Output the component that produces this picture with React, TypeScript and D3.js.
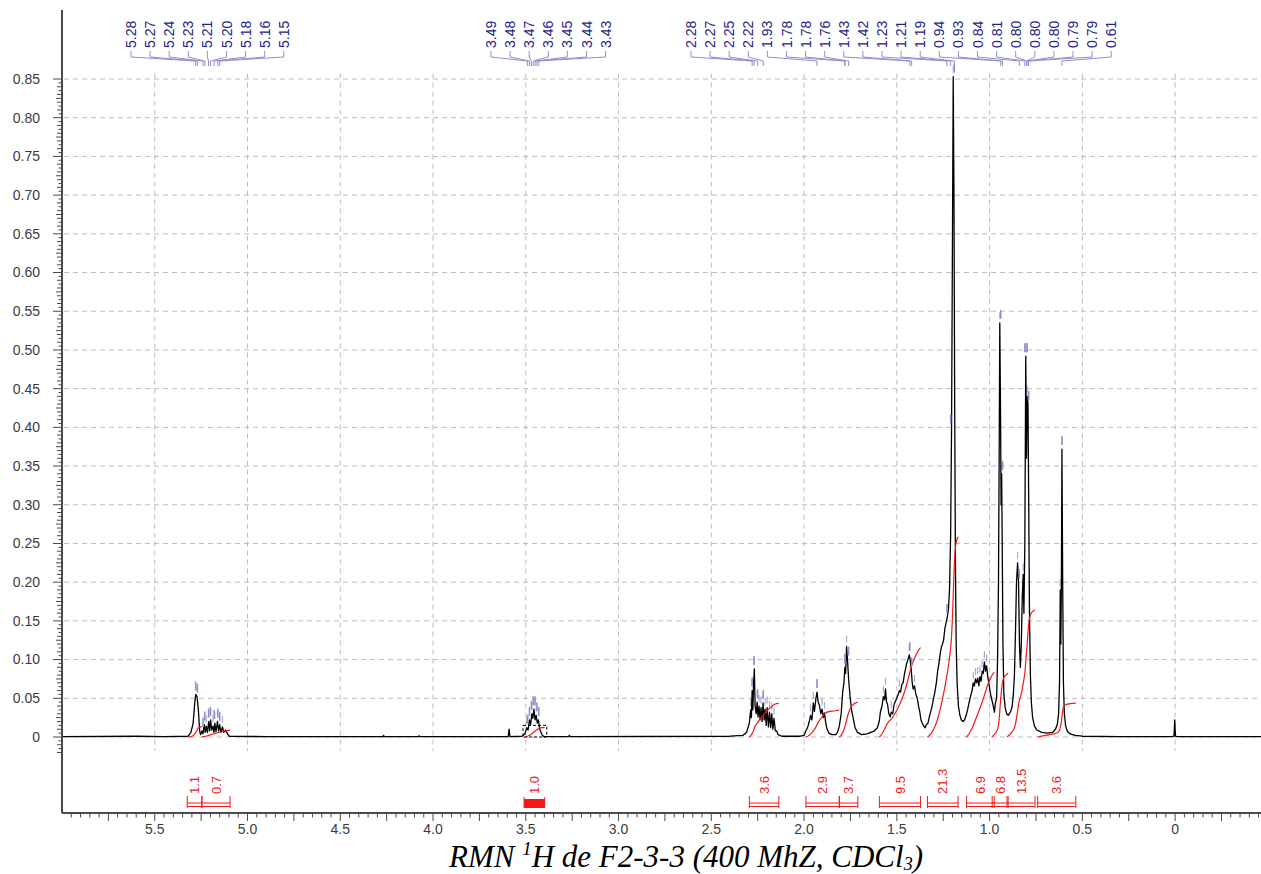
import React from 'react';
import * as d3 from 'd3';

// ---------- DATA ----------
// spectrum trace, [ppm, intensity], by region
const baseLeft: [number, number][] = [[6.0, 0.0005], [5.6, 0.001], [5.45, 0.0005], [5.32, 0.001]];
const olefinic: [number, number][] = [
  [5.305, 0.006], [5.293, 0.018], [5.284, 0.045], [5.279, 0.055], [5.272, 0.052], [5.265, 0.035], [5.258, 0.008], [5.253, 0.003],
  [5.245, 0.008], [5.24, 0.004], [5.233, 0.016], [5.228, 0.006], [5.222, 0.014], [5.216, 0.006], [5.209, 0.02], [5.204, 0.008],
  [5.199, 0.022], [5.193, 0.009], [5.186, 0.014], [5.181, 0.006], [5.176, 0.018], [5.17, 0.007], [5.162, 0.02], [5.156, 0.008],
  [5.15, 0.016], [5.144, 0.006], [5.135, 0.013], [5.128, 0.006], [5.118, 0.009], [5.108, 0.004], [5.098, 0.001],
];
const carbinol: [number, number][] = [
  [4.9, 0.0005], [4.27, 0.0005], [4.267, 0.002], [4.263, 0.0005], [4.08, 0.0005], [4.076, 0.0015], [4.07, 0.0005],
  [3.595, 0.0005], [3.59, 0.01], [3.585, 0.0005],
  [3.52, 0.001], [3.505, 0.004], [3.495, 0.012], [3.488, 0.009], [3.48, 0.022], [3.474, 0.016], [3.467, 0.03], [3.462, 0.024],
  [3.456, 0.036], [3.45, 0.022], [3.444, 0.028], [3.438, 0.018], [3.432, 0.022], [3.425, 0.01], [3.418, 0.006], [3.41, 0.002],
  [3.4, 0.0005], [3.27, 0.0005], [3.265, 0.002], [3.26, 0.0005],
];
const allylic: [number, number][] = [
  [2.4, 0.001], [2.33, 0.002], [2.31, 0.006], [2.295, 0.018],
  [2.288, 0.035], [2.284, 0.025], [2.28, 0.06], [2.276, 0.035], [2.272, 0.07], [2.268, 0.088], [2.264, 0.04], [2.258, 0.03],
  [2.253, 0.045], [2.248, 0.026], [2.243, 0.04], [2.237, 0.022], [2.232, 0.038], [2.226, 0.02], [2.221, 0.044], [2.215, 0.022],
  [2.21, 0.036], [2.204, 0.015], [2.199, 0.038], [2.192, 0.013], [2.186, 0.032], [2.18, 0.012], [2.174, 0.03], [2.168, 0.01],
  [2.162, 0.024], [2.155, 0.008], [2.148, 0.008], [2.14, 0.003], [2.12, 0.001],
  [2.02, 0.001], [2.0, 0.002], [1.99, 0.008], [1.98, 0.013], [1.972, 0.02], [1.965, 0.028], [1.958, 0.022], [1.95, 0.044],
  [1.944, 0.033], [1.936, 0.05], [1.93, 0.058], [1.924, 0.045], [1.917, 0.041], [1.91, 0.03], [1.903, 0.036], [1.896, 0.025],
  [1.89, 0.031], [1.883, 0.018], [1.876, 0.01], [1.866, 0.005], [1.85, 0.003], [1.83, 0.003], [1.82, 0.006], [1.81, 0.014],
  [1.8, 0.03], [1.792, 0.058], [1.785, 0.07], [1.78, 0.09], [1.776, 0.082], [1.771, 0.117], [1.766, 0.1], [1.76, 0.075],
  [1.752, 0.052], [1.744, 0.035], [1.735, 0.024], [1.725, 0.012], [1.712, 0.006], [1.69, 0.003],
];
const aliphatic: [number, number][] = [
  [1.66, 0.004], [1.64, 0.006], [1.62, 0.008], [1.605, 0.012], [1.595, 0.02], [1.588, 0.033], [1.58, 0.04], [1.573, 0.052],
  [1.566, 0.048], [1.561, 0.062], [1.556, 0.046], [1.55, 0.042], [1.543, 0.03], [1.536, 0.026], [1.53, 0.032], [1.522, 0.03],
  [1.515, 0.042], [1.508, 0.046], [1.5, 0.05], [1.493, 0.055], [1.486, 0.06], [1.48, 0.058], [1.473, 0.068], [1.466, 0.07],
  [1.46, 0.08], [1.454, 0.087], [1.447, 0.095], [1.44, 0.1], [1.433, 0.106], [1.428, 0.1], [1.422, 0.086], [1.417, 0.07],
  [1.412, 0.062], [1.405, 0.066], [1.398, 0.056], [1.39, 0.05], [1.383, 0.04], [1.376, 0.032], [1.37, 0.022], [1.363, 0.018],
  [1.355, 0.014], [1.348, 0.012], [1.34, 0.016], [1.332, 0.018], [1.325, 0.026], [1.317, 0.033], [1.31, 0.04], [1.302, 0.05],
  [1.295, 0.058], [1.287, 0.07], [1.28, 0.085], [1.273, 0.095], [1.266, 0.108], [1.26, 0.116], [1.254, 0.12], [1.248, 0.125],
  [1.241, 0.14], [1.234, 0.148], [1.228, 0.155], [1.222, 0.165], [1.216, 0.19], [1.21, 0.26], [1.205, 0.4], [1.2, 0.65],
  [1.196, 0.853], [1.192, 0.7], [1.188, 0.42], [1.184, 0.22], [1.18, 0.12], [1.175, 0.07], [1.168, 0.04], [1.16, 0.028],
  [1.152, 0.022], [1.144, 0.02], [1.135, 0.022], [1.126, 0.028], [1.118, 0.036], [1.11, 0.045], [1.1, 0.055], [1.094, 0.06],
  [1.088, 0.07], [1.082, 0.066], [1.076, 0.075], [1.07, 0.07], [1.064, 0.076], [1.058, 0.066], [1.052, 0.078], [1.046, 0.072],
  [1.04, 0.085], [1.034, 0.082], [1.028, 0.097], [1.022, 0.085], [1.016, 0.092], [1.01, 0.078], [1.004, 0.07], [0.998, 0.06],
  [0.992, 0.052], [0.986, 0.046], [0.98, 0.04], [0.974, 0.032], [0.968, 0.045], [0.962, 0.05], [0.957, 0.1], [0.952, 0.2],
  [0.948, 0.38], [0.945, 0.535], [0.941, 0.42], [0.938, 0.3], [0.935, 0.34], [0.932, 0.25], [0.928, 0.12], [0.923, 0.055],
  [0.916, 0.038], [0.908, 0.03], [0.9, 0.028], [0.893, 0.03], [0.885, 0.034], [0.878, 0.04], [0.872, 0.055], [0.866, 0.08],
  [0.86, 0.14], [0.855, 0.2], [0.849, 0.225], [0.844, 0.2], [0.839, 0.12], [0.834, 0.09], [0.829, 0.12], [0.824, 0.18],
  [0.819, 0.21], [0.815, 0.16], [0.81, 0.25], [0.805, 0.492], [0.801, 0.36], [0.797, 0.44], [0.793, 0.43], [0.789, 0.3],
  [0.785, 0.16], [0.78, 0.08], [0.775, 0.045], [0.768, 0.025], [0.758, 0.014], [0.745, 0.009], [0.72, 0.006], [0.69, 0.005],
  [0.66, 0.006], [0.645, 0.01], [0.635, 0.016], [0.628, 0.03], [0.623, 0.07], [0.619, 0.19], [0.616, 0.12], [0.613, 0.2],
  [0.61, 0.372], [0.606, 0.2], [0.602, 0.07], [0.597, 0.03], [0.59, 0.014], [0.58, 0.007], [0.565, 0.004], [0.54, 0.002],
  [0.5, 0.001],
];
const baseRight: [number, number][] = [
  [0.3, 0.0005], [0.02, 0.0005], [0.006, 0.001], [0.002, 0.022], [-0.002, 0.001], [-0.01, 0.0005], [-0.47, 0.0005],
];

// peak-picking labels (three groups)
const peakLabelsA = [5.28, 5.27, 5.24, 5.23, 5.21, 5.20, 5.18, 5.16, 5.15];
const peakLabelsB = [3.49, 3.48, 3.47, 3.46, 3.45, 3.44, 3.43];
const peakLabelsC = [2.28, 2.27, 2.25, 2.22, 1.93, 1.78, 1.78, 1.76, 1.43, 1.42, 1.23, 1.21, 1.19, 0.94, 0.93, 0.84, 0.81, 0.80, 0.80, 0.80, 0.79, 0.79, 0.61];

// integrals: range (ppm) and value
const integralFrom = [5.325, 5.246, 3.509, 2.295, 1.99, 1.81, 1.594, 1.335, 1.124, 0.986, 0.906, 0.741];
const integralTo = [5.246, 5.094, 3.398, 2.136, 1.81, 1.71, 1.372, 1.17, 0.975, 0.90, 0.755, 0.535];
const integralValues = [1.1, 0.7, 1.0, 3.6, 2.9, 3.7, 9.5, 21.3, 6.9, 6.8, 13.5, 3.6];

const yTickValues = [0, 0.05, 0.1, 0.15, 0.2, 0.25, 0.3, 0.35, 0.4, 0.45, 0.5, 0.55, 0.6, 0.65, 0.7, 0.75, 0.8, 0.85];
const xTickLabels = [5.5, 5.0, 4.5, 4.0, 3.5, 3.0, 2.5, 2.0, 1.5, 1.0, 0.5, 0];

const trace = [...baseLeft, ...olefinic, ...carbinol, ...allylic, ...aliphatic, ...baseRight];

// ---------- helpers ----------
function interp(p: number): number {
  for (let i = 1; i < trace.length; i++) {
    const [a, ia] = trace[i - 1];
    const [b, ib] = trace[i];
    if (p <= a && p >= b) {
      const t = a === b ? 0 : (a - p) / (a - b);
      return ia + t * (ib - ia);
    }
  }
  return 0;
}
function localMax(p: number, w = 0.007): number {
  let m = interp(p);
  for (const [q, v] of trace) if (Math.abs(q - p) <= w && v > m) m = v;
  return m;
}
function integralCurve(from: number, to: number, endH: number): [number, number][] {
  const pts: [number, number][] = [[from, interp(from)]];
  for (const [q, v] of trace) if (q < from && q > to) pts.push([q, v]);
  pts.push([to, interp(to)]);
  const out: [number, number][] = [[from, 0]];
  let cum = 0;
  for (let i = 1; i < pts.length; i++) {
    cum += (pts[i - 1][0] - pts[i][0]) * (pts[i - 1][1] + pts[i][1]) / 2;
    out.push([pts[i][0], cum]);
  }
  return out.map(([q, c]) => [q, cum > 0 ? (c / cum) * endH : 0]);
}
// local maxima of the trace (for the small peak-picking marks above multiplets)
function localMaxima(minI: number): [number, number][] {
  const res: [number, number][] = [];
  for (let i = 1; i < trace.length - 1; i++) {
    const v = trace[i][1];
    if (v >= minI && v > trace[i - 1][1] && v > trace[i + 1][1]) res.push(trace[i]);
  }
  return res;
}

export default function App() {
  const W = 1261, H = 874;
  const left = 62, bottom = 813, top = 10;
  const x = d3.scaleLinear().domain([6.0, -0.463]).range([left, W]);
  const y = d3.scaleLinear().domain([0, 0.85]).range([737, 79]);
  const integralScale = 0.01215;

  const line = d3.line<[number, number]>().x(d => x(d[0])).y(d => y(d[1]));

  const axisColor = '#4a4a4a';
  const labelColor = '#3c3c3c';
  const gridColor = '#bdbdbd';
  const pickColor = '#8f8fcf';
  const pickText = '#23238c';
  const red = '#f01818';

  const yMinor = d3.range(-20, 851, 5).map(v => v / 1000);
  const xMinor = d3.range(-9, 120, 1).map(v => v / 20);

  const groups = [
    { labels: peakLabelsA, x0: 131 },
    { labels: peakLabelsB, x0: 491 },
    { labels: peakLabelsC, x0: 691 },
  ];
  const spacing = 19.1;
  const maxima = localMaxima(0.012).filter(([q]) => q > 0.05);

  return (
    <svg width={W} height={H} style={{ position: 'absolute', left: 0, top: 0, background: '#fff' }}
      fontFamily="'Liberation Sans', Arial, sans-serif">
      <defs>
        <clipPath id="plot"><rect x={left + 1} y={top} width={W - left} height={bottom - top} /></clipPath>
      </defs>
      <rect width={W} height={H} fill="#fff" />

      {/* grid */}
      <g stroke={gridColor} strokeWidth={1} strokeDasharray="5,4">
        {yTickValues.map(v => <line key={'gy' + v} x1={left + 2} x2={W} y1={y(v)} y2={y(v)} />)}
        {xTickLabels.map(v => <line key={'gx' + v} x1={x(v)} x2={x(v)} y1={y(0.857)} y2={y(-0.018)} />)}
      </g>

      {/* y axis */}
      <line x1={left} x2={left} y1={top} y2={bottom} stroke={axisColor} strokeWidth={2} />
      <g stroke={axisColor} strokeWidth={1}>
        {yMinor.map(v => {
          const r = Math.round(v * 1000);
          const len = r % 50 === 0 ? 9 : r % 25 === 0 ? 6 : r % 10 === 0 ? 5 : 3.5;
          return <line key={'ym' + r} x1={left - len} x2={left} y1={y(v)} y2={y(v)} />;
        })}
      </g>
      <g fill={labelColor} fontSize={14} textAnchor="end">
        {yTickValues.map(v => (
          <text key={'yl' + v} x={40} y={y(v)} dy="0.35em">{v === 0 ? '0' : v.toFixed(2)}</text>
        ))}
      </g>

      {/* x axis */}
      <line x1={left} x2={W} y1={bottom} y2={bottom} stroke={axisColor} strokeWidth={2} />
      <g stroke={axisColor} strokeWidth={1}>
        {xMinor.map(v => {
          const r = Math.round(v * 100);
          const len = r % 25 === 0 ? 8 : 4.5;
          return <line key={'xm' + r} x1={x(v)} x2={x(v)} y1={bottom} y2={bottom + len} />;
        })}
      </g>
      <g fill={labelColor} fontSize={14} textAnchor="middle">
        {xTickLabels.map(v => (
          <text key={'xl' + v} x={x(v)} y={829} dy="0.35em">{v === 0 ? '0' : v.toFixed(1)}</text>
        ))}
      </g>

      <g clipPath="url(#plot)">
        {/* dashed box around 3.5 multiplet */}
        <rect x={x(3.515)} y={y(0.015)} width={x(3.387) - x(3.515)} height={y(0) - y(0.015)}
          fill="none" stroke="#000" strokeWidth={1} strokeDasharray="3,2" />

        {/* small peak-picking marks over multiplets */}
        {maxima.map(([q, v], i) => (
          <line key={'mx' + i} x1={x(q)} x2={x(q)} y1={y(v) - 11} y2={y(v) - 4} stroke={pickColor} strokeWidth={1.2} opacity={0.75} />
        ))}

        {/* spectrum */}
        <path d={line(trace) || ''} fill="none" stroke="#000" strokeWidth={1.3} strokeLinejoin="round" />

        {/* integral curves */}
        {integralValues.map((v, i) => (
          <path key={'ic' + i} d={line(integralCurve(integralFrom[i], integralTo[i], v * integralScale)) || ''}
            fill="none" stroke={red} strokeWidth={1.2} />
        ))}

        {/* labelled peak marks */}
        {[...peakLabelsA, ...peakLabelsB, ...peakLabelsC].map((p, i) => {
          const yy = y(localMax(p));
          return <line key={'pm' + i} x1={x(p)} x2={x(p)} y1={yy - 13} y2={yy - 4} stroke={pickColor} strokeWidth={1.5} />;
        })}
      </g>

      {/* peak labels and connectors */}
      {groups.map((g, gi) => (
        <g key={'g' + gi}>
          {g.labels.map((p, i) => {
            const lx = g.x0 + i * spacing;
            const px = x(p);
            return (
              <g key={'pl' + i}>
                <path d={`M${lx},51 L${lx},57 L${px},61 L${px},66`} fill="none" stroke={pickColor} strokeWidth={1} />
                <text transform={`translate(${lx},48) rotate(-90)`} dy="0.36em" fontSize={14} fill={pickText}>
                  {p.toFixed(2)}
                </text>
              </g>
            );
          })}
        </g>
      ))}

      {/* integral brackets & values */}
      {integralValues.map((v, i) => {
        const x1 = x(integralFrom[i]);
        const x2 = x(integralTo[i]);
        const cx = (x1 + x2) / 2;
        return (
          <g key={'ib' + i}>
            {i === 2 ? (
              <>
                <rect x={x1} y={799} width={x2 - x1} height={9} fill={red} />
                <line x1={x1} x2={x1} y1={797} y2={808} stroke={red} />
                <line x1={x2} x2={x2} y1={797} y2={808} stroke={red} />
              </>
            ) : (
              <path d={`M${x1},796 L${x1},808 M${x2},796 L${x2},808 M${x1},803 L${x2},803 M${x1},806.5 L${x2},806.5`}
                fill="none" stroke={red} strokeWidth={1} />
            )}
            <text transform={`translate(${cx},794) rotate(-90)`} dy="0.36em" fontSize={13} fill={red}>
              {v.toFixed(1)}
            </text>
          </g>
        );
      })}

      {/* title */}
      <text x={686} y={867} textAnchor="middle" fontFamily="'Liberation Serif', 'Times New Roman', serif"
        fontStyle="italic" fontSize={31} fill="#000">
        RMN <tspan fontSize={19} dy={-12}>1</tspan><tspan dy={12}>H de F2-3-3 (400 MhZ, CDCl</tspan><tspan fontSize={18} dy={3}>3</tspan><tspan dy={-3}>)</tspan>
      </text>
    </svg>
  );
}
